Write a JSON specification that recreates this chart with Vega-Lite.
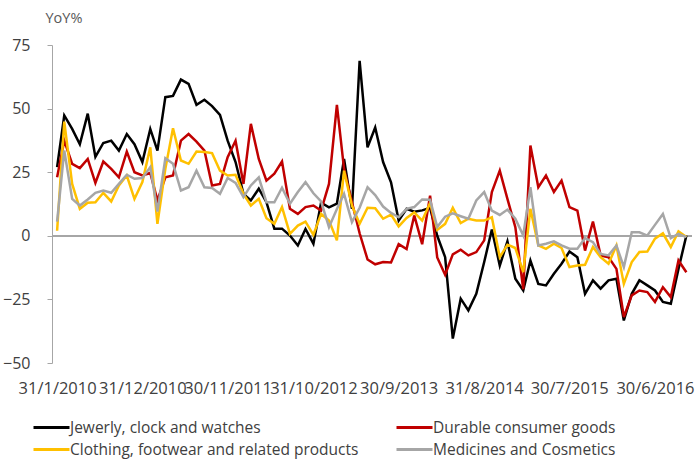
{
  "$schema": "https://vega.github.io/schema/vega-lite/v6.json",
  "autosize": {"type": "none"},
  "width": 640,
  "height": 318,
  "padding": {"left": 52, "top": 45, "right": 3, "bottom": 100},
  "background": "white",
  "config": {
    "view": {"stroke": null},
    "font": "Open Sans",
    "axis": {"labelFont": "Open Sans", "titleFont": "Open Sans"},
    "legend": {"labelFont": "Open Sans"}
  },
  "data": {
    "values": [
      {"date": "2010-01-31", "J": 27, "D": 23, "C": 2, "M": 5.6},
      {"date": "2010-02-28", "J": 47.3, "D": 37.4, "C": 44.9, "M": 33.5},
      {"date": "2010-03-31", "J": 42, "D": 28.3, "C": 20.4, "M": 14.5},
      {"date": "2010-04-30", "J": 36, "D": 26.6, "C": 10.6, "M": 11.9},
      {"date": "2010-05-31", "J": 48, "D": 30.2, "C": 13, "M": 14.3},
      {"date": "2010-06-30", "J": 31, "D": 20.8, "C": 13.2, "M": 16.9},
      {"date": "2010-07-31", "J": 36.5, "D": 29.2, "C": 16.9, "M": 17.8},
      {"date": "2010-08-31", "J": 37.4, "D": 26.3, "C": 13.5, "M": 16.9},
      {"date": "2010-09-30", "J": 33.5, "D": 23, "C": 19.8, "M": 20.4},
      {"date": "2010-10-31", "J": 40, "D": 33.1, "C": 23.7, "M": 24},
      {"date": "2010-11-30", "J": 36, "D": 25, "C": 14.5, "M": 22.4},
      {"date": "2010-12-31", "J": 29, "D": 23.7, "C": 21.1, "M": 22.7},
      {"date": "2011-01-31", "J": 42, "D": 24.7, "C": 34.8, "M": 27},
      {"date": "2011-02-28", "J": 33.5, "D": 13.9, "C": 4.7, "M": 9.5},
      {"date": "2011-03-31", "J": 54.5, "D": 23, "C": 26.3, "M": 30.5},
      {"date": "2011-04-30", "J": 55, "D": 23.7, "C": 42.3, "M": 28.3},
      {"date": "2011-05-31", "J": 61.4, "D": 37.4, "C": 29.6, "M": 17.8},
      {"date": "2011-06-30", "J": 59.7, "D": 40, "C": 28.3, "M": 19.1},
      {"date": "2011-07-31", "J": 51.5, "D": 37, "C": 33.1, "M": 25.6},
      {"date": "2011-08-31", "J": 53.5, "D": 33.5, "C": 32.9, "M": 19.1},
      {"date": "2011-09-30", "J": 51, "D": 19.8, "C": 32.5, "M": 18.8},
      {"date": "2011-10-31", "J": 47.5, "D": 20.4, "C": 25.6, "M": 16.5},
      {"date": "2011-11-30", "J": 37.4, "D": 30.9, "C": 23.7, "M": 22.7},
      {"date": "2011-12-31", "J": 29, "D": 37.4, "C": 24, "M": 20.8},
      {"date": "2012-01-31", "J": 16.5, "D": 20.4, "C": 16.5, "M": 15.2},
      {"date": "2012-02-29", "J": 13.9, "D": 44, "C": 11.9, "M": 19.8},
      {"date": "2012-03-31", "J": 18.5, "D": 30.2, "C": 14.5, "M": 23},
      {"date": "2012-04-30", "J": 13.2, "D": 21.7, "C": 6.9, "M": 13.2},
      {"date": "2012-05-31", "J": 2.8, "D": 24.4, "C": 4.7, "M": 13.2},
      {"date": "2012-06-30", "J": 2.8, "D": 29.2, "C": 11.3, "M": 18.9},
      {"date": "2012-07-31", "J": 0.1, "D": 10.6, "C": 0.8, "M": 12.6},
      {"date": "2012-08-31", "J": -3.8, "D": 8.6, "C": 4, "M": 17.2},
      {"date": "2012-09-30", "J": 2.7, "D": 11.3, "C": 5.6, "M": 21.1},
      {"date": "2012-10-31", "J": -3.1, "D": 11.9, "C": 0.4, "M": 16.7},
      {"date": "2012-11-30", "J": 13, "D": 9.9, "C": 8.6, "M": 13.5},
      {"date": "2012-12-31", "J": 11.2, "D": 20.4, "C": 6, "M": 3.4},
      {"date": "2013-01-31", "J": 12.6, "D": 51.5, "C": -1.8, "M": 10.5},
      {"date": "2013-02-28", "J": 30.2, "D": 26.3, "C": 25.6, "M": 16.5},
      {"date": "2013-03-31", "J": 10.6, "D": 13.2, "C": 11.9, "M": 5.4},
      {"date": "2013-04-30", "J": 68.8, "D": 1, "C": 4.7, "M": 11},
      {"date": "2013-05-31", "J": 34.8, "D": -9.3, "C": 11, "M": 19.1},
      {"date": "2013-06-30", "J": 42.6, "D": -11.2, "C": 10.8, "M": 16},
      {"date": "2013-07-31", "J": 29, "D": -10.3, "C": 6.7, "M": 11.5},
      {"date": "2013-08-31", "J": 21, "D": -10.5, "C": 8.3, "M": 9},
      {"date": "2013-09-30", "J": 6, "D": -3.3, "C": 3.7, "M": 7.3},
      {"date": "2013-10-31", "J": 10.6, "D": -5.2, "C": 7, "M": 10.6},
      {"date": "2013-11-30", "J": 9.5, "D": 8, "C": 9.2, "M": 11.3},
      {"date": "2013-12-31", "J": 10, "D": -3.3, "C": 6, "M": 14.3},
      {"date": "2014-01-31", "J": 11, "D": 15.8, "C": 12.9, "M": 14.2},
      {"date": "2014-02-28", "J": 0, "D": -8.5, "C": 2.3, "M": 3.5},
      {"date": "2014-03-31", "J": -8.4, "D": -15.3, "C": 4.7, "M": 7.5},
      {"date": "2014-04-30", "J": -40.4, "D": -7.3, "C": 11, "M": 8.8},
      {"date": "2014-05-31", "J": -24.7, "D": -5.5, "C": 5, "M": 7.7},
      {"date": "2014-06-30", "J": -29.3, "D": -7.7, "C": 6.7, "M": 6.7},
      {"date": "2014-07-31", "J": -22.8, "D": -6.4, "C": 6, "M": 13.9},
      {"date": "2014-08-31", "J": -10.3, "D": -1.8, "C": 6, "M": 17.2},
      {"date": "2014-09-30", "J": 2.5, "D": 17.2, "C": 7.3, "M": 9.9},
      {"date": "2014-10-31", "J": -11.7, "D": 25.6, "C": -8.4, "M": 8.2},
      {"date": "2014-11-30", "J": -2.2, "D": 14.5, "C": -3.5, "M": 10.3},
      {"date": "2014-12-31", "J": -16.9, "D": 3.4, "C": -4.8, "M": 6.7},
      {"date": "2015-01-31", "J": -21.5, "D": -21, "C": -14.3, "M": 0.1},
      {"date": "2015-02-28", "J": -9.7, "D": 35.5, "C": 10.6, "M": 19.1},
      {"date": "2015-03-31", "J": -18.9, "D": 19.1, "C": -3.8, "M": -3.8},
      {"date": "2015-04-30", "J": -19.5, "D": 23.7, "C": -5.1, "M": -3.1},
      {"date": "2015-05-31", "J": -14.9, "D": 17.2, "C": -3.1, "M": -2.2},
      {"date": "2015-06-30", "J": -11, "D": 21.7, "C": -4.8, "M": -3.8},
      {"date": "2015-07-31", "J": -6.2, "D": 11.3, "C": -12.3, "M": -5.1},
      {"date": "2015-08-31", "J": -8.4, "D": 9.9, "C": -11.7, "M": -5.1},
      {"date": "2015-09-30", "J": -22.8, "D": -5.8, "C": -11.4, "M": -0.9},
      {"date": "2015-10-31", "J": -17.5, "D": 5.6, "C": -4.4, "M": -2.5},
      {"date": "2015-11-30", "J": -20.8, "D": -7.7, "C": -8.4, "M": -7.1},
      {"date": "2015-12-31", "J": -17.5, "D": -8.4, "C": -11, "M": -7.7},
      {"date": "2016-01-31", "J": -16.9, "D": -13, "C": -3.8, "M": -3.8},
      {"date": "2016-02-29", "J": -33.3, "D": -31.9, "C": -18.9, "M": -12.3},
      {"date": "2016-03-31", "J": -22.8, "D": -23.4, "C": -10.3, "M": 1.4},
      {"date": "2016-04-30", "J": -17.5, "D": -21.5, "C": -6.4, "M": 1.4},
      {"date": "2016-05-31", "J": -19.5, "D": -22.1, "C": -6.2, "M": 0.1},
      {"date": "2016-06-30", "J": -21.5, "D": -26, "C": -1.1, "M": 4.3},
      {"date": "2016-07-31", "J": -26, "D": -20.2, "C": 1, "M": 8.6},
      {"date": "2016-08-31", "J": -26.7, "D": -24.1, "C": -4.4, "M": -0.9},
      {"date": "2016-09-30", "J": -13, "D": -9.7, "C": 1.7, "M": 0.8},
      {"date": "2016-10-31", "J": 0.1, "D": -14.3, "C": -0.5, "M": -0.5}
    ]
  },
  "layer": [
    {
      "mark": {"type": "rule", "color": "#a6a6a6", "strokeWidth": 1.5},
      "encoding": {"y": {"datum": 0, "type": "quantitative"}}
    },
    {
      "transform": [{"fold": ["J", "D", "C", "M"], "as": ["series", "value"]}],
      "mark": {"type": "line", "strokeWidth": 2.5, "strokeJoin": "miter"},
      "encoding": {
        "x": {
          "field": "date",
          "type": "temporal",
          "scale": {"type": "utc", "domain": [{"year": 2010, "month": 1, "date": 11, "utc": true}, {"year": 2016, "month": 11, "date": 22, "utc": true}]},
          "axis": {
            "title": null,
            "domain": false,
            "ticks": false,
            "grid": false,
            "values": [
              {"year": 2010, "month": 1, "date": 31, "utc": true},
              {"year": 2010, "month": 12, "date": 31, "utc": true},
              {"year": 2011, "month": 11, "date": 30, "utc": true},
              {"year": 2012, "month": 10, "date": 31, "utc": true},
              {"year": 2013, "month": 9, "date": 30, "utc": true},
              {"year": 2014, "month": 8, "date": 31, "utc": true},
              {"year": 2015, "month": 7, "date": 30, "utc": true},
              {"year": 2016, "month": 6, "date": 30, "utc": true}
            ],
            "labelExpr": "utcFormat(datum.value, '%-d/%-m/%Y')",
            "labelFontSize": 16.5,
            "labelColor": "#404040",
            "labelPadding": 17,
            "labelOverlap": false,
            "labelFlush": false
          }
        },
        "y": {
          "field": "value",
          "type": "quantitative",
          "scale": {"domain": [-50, 75], "nice": false, "zero": false},
          "axis": {
            "values": [-50, -25, 0, 25, 50, 75],
            "grid": false,
            "domainColor": "#a6a6a6",
            "tickColor": "#a6a6a6",
            "tickSize": 5,
            "labelFontSize": 16,
            "labelColor": "#404040",
            "labelPadding": 17,
            "title": "YoY%",
            "titleAngle": 0,
            "titleAlign": "left",
            "titleBaseline": "alphabetic",
            "titleX": -7,
            "titleY": -23,
            "titleFontSize": 14.5,
            "titleFontWeight": "normal",
            "titleColor": "#595959"
          }
        },
        "color": {
          "field": "series",
          "type": "nominal",
          "scale": {"domain": ["J", "C", "D", "M"], "range": ["#000000", "#ffc000", "#c00000", "#a6a6a6"]},
          "legend": {
            "title": null,
            "orient": "none",
            "legendX": -14,
            "legendY": 369,
            "columns": 2,
            "columnPadding": 31,
            "rowPadding": 0,
            "symbolType": "M-1.5,0H1.5",
            "symbolSize": 576,
            "symbolStrokeWidth": 3,
            "labelOffset": 5,
            "labelFontSize": 15.5,
            "labelColor": "#404040",
            "labelLimit": 400,
            "labelExpr": "{'J': 'Jewerly, clock and watches', 'D': 'Durable consumer goods', 'C': 'Clothing, footwear and related products', 'M': 'Medicines and Cosmetics'}[datum.label]"
          }
        }
      }
    }
  ]
}
